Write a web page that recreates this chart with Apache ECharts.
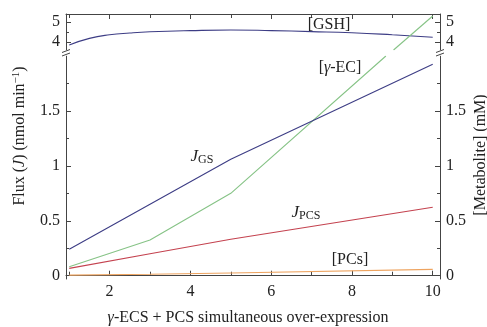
<!DOCTYPE html>
<html><head><meta charset="utf-8">
<script src="https://cdn.jsdelivr.net/npm/echarts@6/dist/echarts.min.js"></script>
<style>html,body{margin:0;padding:0;background:#fff}#c{width:487px;height:327px}</style>
</head><body><div id="c"></div>
<script>
// ---- data ----
const xTickMajor = [2, 4, 6, 8, 10];
const xTickMinor = [1, 3, 5, 7, 9];
const xLabels = [2, 4, 6, 8, 10];
const upperTicks = [4, 5];
const upperMinor = [4.5];
const lowerTicks = [0, 0.5, 1, 1.5];
const lowerMinor = [0.25, 0.75, 1.25, 1.75];

const gshX = [1, 1.5, 2, 2.5, 3, 4, 5, 6, 7, 8, 9, 10];
const gshY = [3.85, 4.18, 4.36, 4.45, 4.51, 4.57, 4.6, 4.57, 4.52, 4.46, 4.36, 4.24];
const fluxX = [1, 3, 5, 10];
const jgsY = [0.24, 0.65, 1.06, 1.925];
const jpcsY = [0.067, 0.2, 0.332, 0.623];
const pcsY = [0.005, 0.013, 0.025, 0.058];
const gecLowX = [1, 3, 5, 8.84];
const gecLowY = [0.082, 0.325, 0.75, 2.0];
const gecUpX = [9.03, 10];
const gecUpY = [3.6, 5.3];

const X_MIN = 0.92, X_MAX = 10.18;
const UP_MIN = 3.6, UP_MAX = 5.4;
const LO_MIN = -0.03, LO_MAX = 2.0;

const zip = (xs, ys) => xs.map((x, i) => [x, ys[i]]);

const FONT = '"Liberation Serif", "DejaVu Serif", serif';
const AX = '#444';
const TXT = '#222';
const C_BLUE = '#3d3d85', C_GREEN = '#86c386', C_RED = '#c4424f', C_ORANGE = '#eea460';

const G_UP = {left: 66, right: 47, top: 14, height: 36};
const G_LO = {left: 66, right: 47, top: 56, height: 223};

function xAx(grid, pos, ticks, len, labels, line) {
  return {
    type: 'value', gridIndex: grid, position: pos, min: X_MIN, max: X_MAX,
    splitLine: {show: false},
    axisLine: {show: line, lineStyle: {color: AX, width: 1}},
    axisTick: {show: true, inside: true, length: len, customValues: ticks, lineStyle: {color: AX, width: 1}},
    axisLabel: labels ? {show: true, customValues: labels, fontFamily: FONT, fontSize: 16, color: TXT, margin: 5} : {show: false}
  };
}
function yAx(grid, pos, min, max, ticks, len, labels, line) {
  return {
    type: 'value', gridIndex: grid, position: pos, min: min, max: max,
    splitLine: {show: false},
    axisLine: {show: line, lineStyle: {color: AX, width: 1}},
    axisTick: {show: true, inside: true, length: len, customValues: ticks, lineStyle: {color: AX, width: 1}},
    axisLabel: labels ? {show: true, customValues: labels, fontFamily: FONT, fontSize: 16, color: TXT, margin: 6} : {show: false}
  };
}

const chart = echarts.init(document.getElementById('c'), null, {renderer: 'canvas'});

function lineSeries(name, xi, yi, data, color, smooth) {
  return {
    name: name, type: 'line', xAxisIndex: xi, yAxisIndex: yi, data: data,
    showSymbol: false, symbol: 'none', smooth: smooth || false, clip: true,
    lineStyle: {color: color, width: 1.1}, itemStyle: {color: color}, animation: false
  };
}

const option = {
  animation: false,
  backgroundColor: '#fff',
  grid: [G_UP, G_LO, G_UP, G_LO],
  xAxis: [
    xAx(0, 'top', xTickMajor, 5, null, true),
    xAx(1, 'bottom', xTickMajor, 5, xLabels, true),
    xAx(2, 'top', xTickMinor, 4, null, false),
    xAx(3, 'bottom', xTickMinor, 4, null, false)
  ],
  yAxis: [
    yAx(0, 'left', UP_MIN, UP_MAX, upperTicks, 5, upperTicks, true),
    yAx(0, 'right', UP_MIN, UP_MAX, upperTicks, 5, upperTicks, true),
    yAx(1, 'left', LO_MIN, LO_MAX, lowerTicks, 5, lowerTicks, true),
    yAx(1, 'right', LO_MIN, LO_MAX, lowerTicks, 5, lowerTicks, true),
    yAx(2, 'left', UP_MIN, UP_MAX, upperMinor, 3, null, false),
    yAx(2, 'right', UP_MIN, UP_MAX, upperMinor, 3, null, false),
    yAx(3, 'left', LO_MIN, LO_MAX, lowerMinor, 3, null, false),
    yAx(3, 'right', LO_MIN, LO_MAX, lowerMinor, 3, null, false)
  ],
  series: [
    lineSeries('[GSH]', 0, 0, zip(gshX, gshY), C_BLUE, 0.5),
    lineSeries('[γ-EC] upper', 0, 0, zip(gecUpX, gecUpY), C_GREEN),
    lineSeries('[PCs]', 1, 2, zip(fluxX, pcsY), C_ORANGE),
    lineSeries('J_PCS', 1, 2, zip(fluxX, jpcsY), C_RED),
    lineSeries('[γ-EC]', 1, 2, zip(gecLowX, gecLowY), C_GREEN),
    lineSeries('J_GS', 1, 2, zip(fluxX, jgsY), C_BLUE)
  ]
};
chart.setOption(option);

// break marks and annotations
const pUpL = chart.convertToPixel({gridIndex: 0}, [X_MIN, UP_MIN]);
const pLoL = chart.convertToPixel({gridIndex: 1}, [X_MIN, LO_MAX]);
const pUpR = chart.convertToPixel({gridIndex: 0}, [X_MAX, UP_MIN]);
function brk(x, y) {
  return {type: 'line', shape: {x1: x - 4, y1: y + 1.5, x2: x + 4, y2: y - 1.5}, style: {stroke: AX, lineWidth: 1}, z: 10};
}
const midY1 = pUpL[1] + 1;
const midY2 = pLoL[1] - 1.5;
const txtStyle = (t, x, y, extra) => Object.assign({type: 'text', x: x, y: y, z: 20, style: Object.assign({text: t, font: '16px ' + FONT, fill: TXT, align: 'center', verticalAlign: 'middle'}, extra || {})});
const subRich = {j: {font: 'italic 17px ' + FONT, fill: TXT, lineHeight: 18}, s: {font: '12px ' + FONT, fill: TXT, lineHeight: 18, verticalAlign: 'bottom', padding: [6, 0, 0, 0]}};
const graphics = [
  {type: 'rect', shape: {x: pUpL[0] - 1, y: pUpL[1] + 0.5, width: 2, height: pLoL[1] - pUpL[1] - 1}, style: {fill: '#fff'}, z: 9},
  {type: 'rect', shape: {x: pUpR[0] - 1, y: pUpL[1] + 0.5, width: 2, height: pLoL[1] - pUpL[1] - 1}, style: {fill: '#fff'}, z: 9},
  brk(pUpL[0], midY1), brk(pUpL[0], midY2),
  brk(pUpR[0], midY1), brk(pUpR[0], midY2),
  txtStyle('[GSH]', 329, 25),
  txtStyle('[{i|γ}-EC]', 340, 68, {rich: {i: {font: 'italic 16px ' + FONT, fill: TXT}}}),
  txtStyle('[PCs]', 350, 260),
  txtStyle('{j|J}{s|GS}', 202, 157, {rich: subRich}),
  txtStyle('{j|J}{s|PCS}', 306, 213, {rich: subRich}),
  txtStyle('Flux ({i|J}) (nmol min{sup|−1})', 20, 136, {rich: {i: {font: 'italic 16px ' + FONT, fill: TXT}, sup: {font: '11px ' + FONT, fill: TXT, padding: [0, 0, 8, 0]}}}),
  txtStyle('[Metabolite] (mM)', 481, 155),
  txtStyle('{i|γ}-ECS + PCS simultaneous over-expression', 248, 318, {rich: {i: {font: 'italic 16px ' + FONT, fill: TXT}}})
];
graphics[graphics.length - 3].rotation = Math.PI / 2;
graphics[graphics.length - 2].rotation = Math.PI / 2;
chart.setOption({graphic: graphics});
</script></body></html>
